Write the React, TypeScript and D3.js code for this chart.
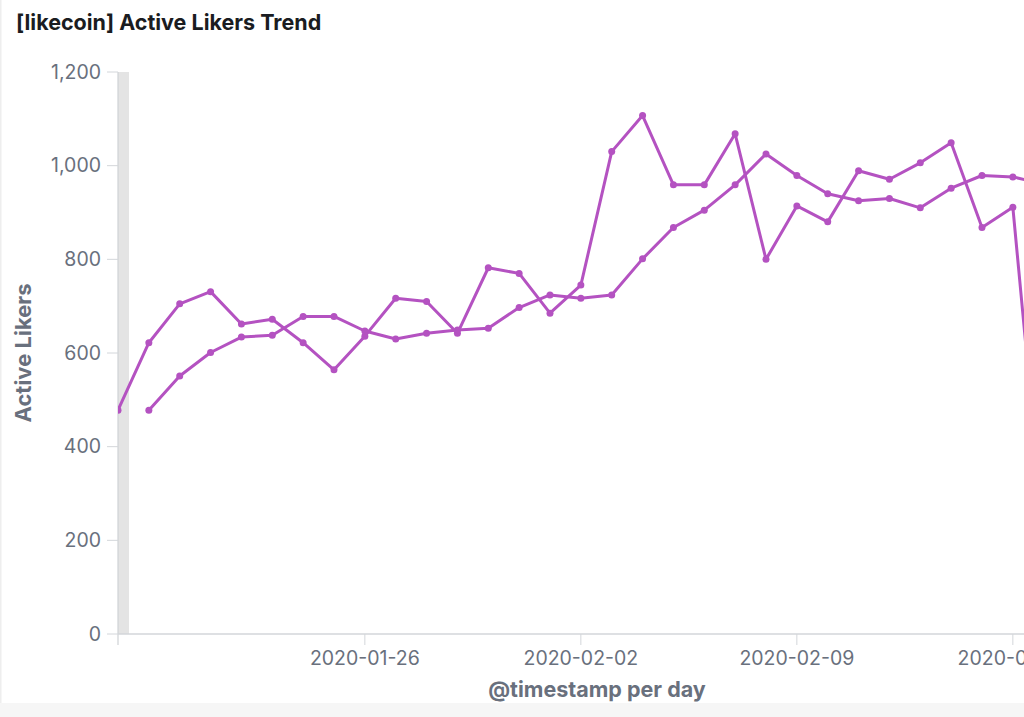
import React from "react";
import * as d3 from "d3";

const seriesADates = [
  "2020-01-18","2020-01-19","2020-01-20","2020-01-21","2020-01-22","2020-01-23","2020-01-24","2020-01-25",
  "2020-01-26","2020-01-27","2020-01-28","2020-01-29","2020-01-30","2020-01-31","2020-02-01","2020-02-02",
  "2020-02-03","2020-02-04","2020-02-05","2020-02-06","2020-02-07","2020-02-08","2020-02-09","2020-02-10",
  "2020-02-11","2020-02-12","2020-02-13","2020-02-14","2020-02-15","2020-02-16","2020-02-17",
];
const seriesAValues = [
  478, 622, 705, 731, 662, 672, 622, 564,
  636, 717, 710, 642, 782, 770, 685, 745,
  1030, 1107, 959, 959, 1068, 800, 914, 880,
  989, 971, 1006, 1049, 868, 911, 210,
];
const seriesBDates = seriesADates.slice(1);
const seriesBValues = [
  478, 551, 601, 634, 638, 678, 678,
  647, 630, 642, 649, 653, 697, 724, 717,
  724, 801, 868, 905, 959, 1025, 979, 940,
  925, 930, 910, 952, 979, 976, 961,
];
const xTickDates = ["2020-01-26", "2020-02-02", "2020-02-09", "2020-02-16"];
const yTickValues = [0, 200, 400, 600, 800, 1000, 1200];

const W = 1024;
const H = 717;
const left = 118;
const top = 72;
const bottom = 634;
const font = "Inter, 'Noto Sans', sans-serif";
const lineColor = "#b452c1";
const tickColor = "#69707d";

const parse = d3.utcParse("%Y-%m-%d");

export default function App() {
  const x = d3
    .scaleUtc()
    .domain([parse("2020-01-18")!, parse("2020-02-18")!])
    .range([left, left + 31 * 30.857]);
  const y = d3.scaleLinear().domain([0, 1200]).range([bottom, top]);

  const dataA = seriesADates.map((d, i) => ({ date: parse(d)!, value: seriesAValues[i] }));
  const dataB = seriesBDates.map((d, i) => ({ date: parse(d)!, value: seriesBValues[i] }));

  const line = d3
    .line<{ date: Date; value: number }>()
    .x((d) => x(d.date))
    .y((d) => y(d.value));

  const fmt = d3.format(",");

  return (
    <div style={{ position: "fixed", left: 0, top: 0, width: W, height: H, background: "#fff" }}>
      <svg width={W} height={H} style={{ display: "block" }}>
        <defs>
          <clipPath id="plotClip">
            <rect x={left} y={top - 10} width={W - left} height={bottom - top + 20} />
          </clipPath>
        </defs>
        <rect x={0} y={0} width={W} height={H} fill="#ffffff" />
        <rect x={0} y={703} width={W} height={H - 703} fill="#f6f6f6" />
        <rect x={0} y={0} width={1.5} height={703} fill="#eeeeee" />

        <text x={16} y={30} fontFamily={font} fontWeight={700} fontSize={21.5} fill="#1a1c21">
          [likecoin] Active Likers Trend
        </text>

        {/* grey band */}
        <rect x={left} y={top} width={11} height={bottom - top} fill="#e4e4e4" />

        {/* y axis */}
        <line x1={left} x2={left} y1={top} y2={bottom + 11} stroke="#cfd2d6" strokeWidth={1.2} />
        {yTickValues.map((v) => (
          <g key={v}>
            <line x1={left - 11} x2={left} y1={y(v)} y2={y(v)} stroke="#d3d6da" strokeWidth={1} />
            <text
              x={101}
              y={y(v)}
              dy="0.35em"
              textAnchor="end"
              fontFamily={font}
              fontSize={19.5}
              fill={tickColor}
            >
              {fmt(v)}
            </text>
          </g>
        ))}

        {/* x axis */}
        <line x1={left} x2={W} y1={bottom} y2={bottom} stroke="#d3d6da" strokeWidth={1.3} />
        {xTickDates.map((d) => {
          const xx = x(parse(d)!);
          return (
            <g key={d}>
              <line x1={xx} x2={xx} y1={bottom} y2={bottom + 11} stroke="#d3d6da" strokeWidth={1} />
              <text
                x={xx}
                y={665}
                textAnchor="middle"
                fontFamily={font}
                fontSize={19.5}
                fill={tickColor}
              >
                {d}
              </text>
            </g>
          );
        })}

        <text
          x={597}
          y={697}
          textAnchor="middle"
          fontFamily={font}
          fontWeight={700}
          fontSize={21.5}
          fill={tickColor}
        >
          @timestamp per day
        </text>
        <text
          transform={`translate(31,${(top + bottom) / 2}) rotate(-90)`}
          textAnchor="middle"
          fontFamily={font}
          fontWeight={700}
          fontSize={22}
          fill={tickColor}
        >
          Active Likers
        </text>

        <g clipPath="url(#plotClip)">
          {[dataA, dataB].map((data, si) => (
            <g key={si}>
              <path d={line(data) || ""} fill="none" stroke={lineColor} strokeWidth={3} strokeLinejoin="round" />
              {data.map((d, i) => (
                <circle key={i} cx={x(d.date)} cy={y(d.value)} r={3.5} fill={lineColor} />
              ))}
            </g>
          ))}
        </g>
      </svg>
    </div>
  );
}
